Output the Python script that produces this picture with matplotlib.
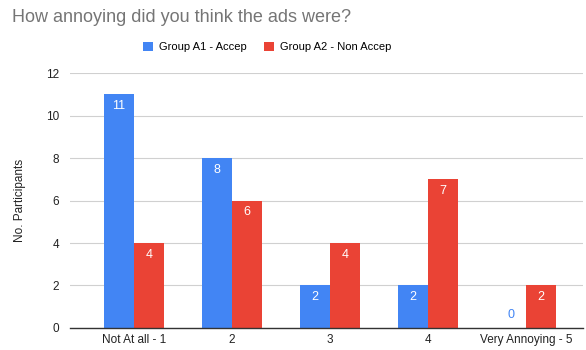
import matplotlib.pyplot as plt
import numpy as np

plt.rcParams["font.family"] = ["Liberation Sans", "DejaVu Sans"]

categories = ["Not At all - 1", "2", "3", "4", "Very Annoying - 5"]
group_a1 = [11, 8, 2, 2, 0]
group_a2 = [4, 6, 4, 7, 2]
series_names = ["Group A1 - Accep", "Group A2 - Non Accep"]
yticks = [0, 2, 4, 6, 8, 10, 12]

BLUE = "#4285F4"
RED = "#EA4335"

fig = plt.figure(figsize=(5.86, 3.5), dpi=100)
ax = fig.add_axes([0.1195, 0.063, 0.8755, 0.728])

x = np.arange(len(categories))
w = 0.306
bars1 = ax.bar(x - w / 2, group_a1, w, color=BLUE, label=series_names[0], zorder=3)
bars2 = ax.bar(x + w / 2, group_a2, w, color=RED, label=series_names[1], zorder=3)

# value labels: white inside the bar top, coloured above the axis for zero
for bars, color in ((bars1, BLUE), (bars2, RED)):
    for b in bars:
        v = b.get_height()
        cx = b.get_x() + b.get_width() / 2
        if v > 0:
            ax.text(cx, v - 0.28, f"{v:g}", ha="center", va="top",
                    color="white", fontsize=9, zorder=4)
        else:
            ax.text(cx, 0.35, f"{v:g}", ha="center", va="bottom",
                    color=color, fontsize=9, zorder=4)

ax.set_xlim(-0.653, 4.58)
ax.set_ylim(0, 12)
ax.set_yticks(yticks)
ax.set_xticks(x)
ax.set_xticklabels(categories)
ax.tick_params(axis="both", length=0, labelsize=8.5, colors="#222222")
ax.tick_params(axis="y", pad=8)
ax.tick_params(axis="x", pad=4)

ax.grid(axis="y", color="#d0d0d0", linewidth=0.8, zorder=0)
for s in ("top", "right", "left"):
    ax.spines[s].set_visible(False)
ax.spines["bottom"].set_color("#333333")
ax.spines["bottom"].set_linewidth(1.0)
ax.spines["bottom"].set_zorder(5)

fig.text(20 / 586, 1 - 200 / 350, "No. Participants", rotation=90,
         fontsize=8.5, color="#222222", ha="center", va="center")

fig.text(0.02, 0.95, "How annoying did you think the ads were?",
         fontsize=13, color="#757575", ha="left", va="center")

fig.legend(handles=[bars1, bars2], labels=series_names, loc="center",
           bbox_to_anchor=(0.456, 0.866), ncol=2, frameon=False,
           fontsize=8, handlelength=0.9, handleheight=0.9,
           handletextpad=0.6, columnspacing=1.5)

fig.savefig("out.png", dpi=100)
